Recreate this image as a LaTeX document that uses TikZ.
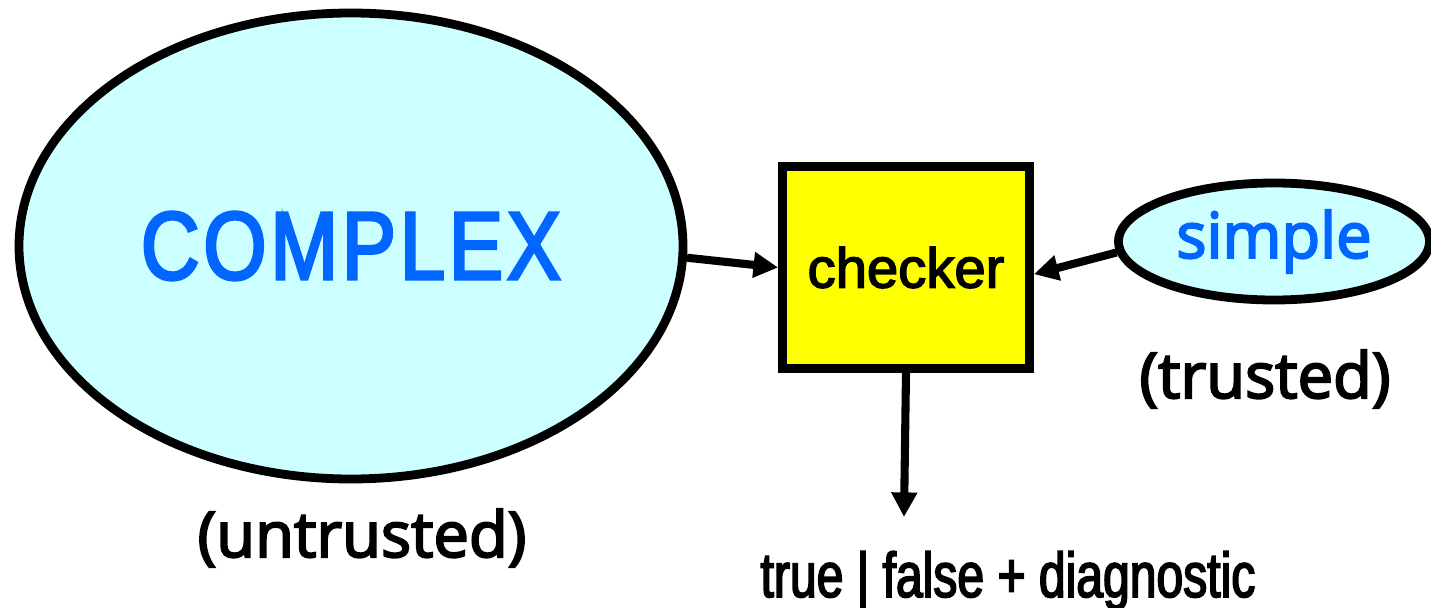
\documentclass[tikz,border=0pt]{standalone}
\usepackage{fontspec}
\setmainfont[FakeBold=2.6]{Liberation Sans}
\newfontfamily\capsfont[FakeStretch=0.84,FakeBold=3,LetterSpace=4]{Liberation Sans}
\newfontfamily\tagfont[FakeBold=3.2]{Open Sans}
\newfontfamily\narrowfont[FakeStretch=0.76,FakeBold=2.6]{Liberation Sans}
\usetikzlibrary{shapes.geometric,arrows.meta}
\definecolor{blobfill}{HTML}{CCFFFF}
\definecolor{blobtext}{HTML}{0066FF}
\definecolor{boxfill}{HTML}{FFFF00}

\begin{document}
\begin{tikzpicture}[x=0.02cm,y=-0.02cm,
    blob/.style={ellipse,draw,line width=5pt,fill=blobfill,text=blobtext,inner sep=0pt},
    checkbox/.style={rectangle,draw,line width=5pt,fill=boxfill,inner sep=0pt},
    tag/.style={anchor=base,font=\tagfont\fontsize{36}{40}\selectfont},
    flow/.style={line width=4.6pt,-{Triangle[length=14pt,width=14pt]}}]
    \useasboundingbox (0,0) rectangle (1431,608);
    % the two programs and the checker between them
    \node[blob,minimum width=664*0.02cm,minimum height=466*0.02cm,
        font=\capsfont\fontsize{55}{60}\selectfont] (complex) at (351,246) {COMPLEX};
    \node[checkbox,minimum width=247*0.02cm,minimum height=202*0.02cm,
        font=\fontsize{32}{36}\selectfont] (checker) at (906,267.5) {checker};
    \node[blob,minimum width=311*0.02cm,minimum height=117*0.02cm,
        font=\tagfont\fontsize{36}{40}\selectfont] (simple) at (1274,241.5) {simple};
    \node[tag] (untrusted) at (362,557) {(untrusted)};
    \node[tag] (trusted) at (1265,398) {(trusted)};
    \node[anchor=base,font=\narrowfont\fontsize{36}{40}\selectfont] (verdict) at (1008,597)
        {true | false + diagnostic};
    \coordinate (result) at (904,517);
    % data flow
    \draw[flow] (complex.-2) -- (checker.west);
    \draw[flow] (simple.184) -- (checker.-3);
    \draw[flow] (checker.south) -- (result);
\end{tikzpicture}
\end{document}
